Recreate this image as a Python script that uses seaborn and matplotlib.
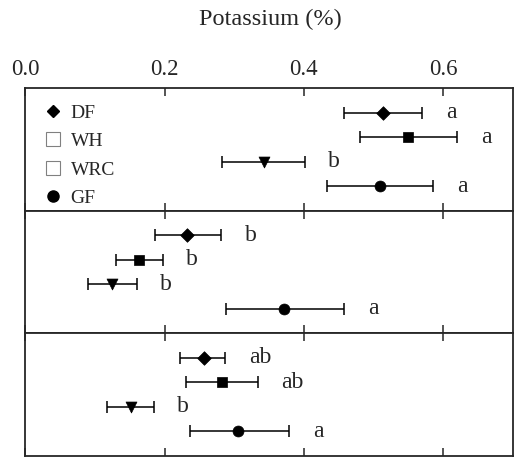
import matplotlib
matplotlib.use("Agg")
import matplotlib.pyplot as plt
from matplotlib.lines import Line2D
import numpy as np
import pandas as pd
import seaborn as sns

species = ["DF", "WH", "WRC", "GF"]
panels = ["top", "middle", "bottom"]

# mean and error-bar ends per panel, in species order
means = {
    "top":    [0.514, 0.549, 0.342, 0.510],
    "middle": [0.232, 0.163, 0.125, 0.372],
    "bottom": [0.256, 0.283, 0.151, 0.306],
}
lows = {
    "top":    [0.457, 0.480, 0.283, 0.433],
    "middle": [0.186, 0.130, 0.090, 0.288],
    "bottom": [0.222, 0.230, 0.117, 0.236],
}
highs = {
    "top":    [0.570, 0.620, 0.401, 0.586],
    "middle": [0.281, 0.197, 0.160, 0.458],
    "bottom": [0.287, 0.334, 0.184, 0.379],
}
letters = {
    "top":    ["a", "a", "b", "a"],
    "middle": ["b", "b", "b", "a"],
    "bottom": ["ab", "ab", "b", "a"],
}
tick_vals = [0.0, 0.2, 0.4, 0.6]

sns.set_style("ticks")
plt.rcParams["font.family"] = ["Liberation Serif", "DejaVu Serif"]

marker_map = {"DF": "D", "WH": "s", "WRC": "v", "GF": "o"}
size_map = {"DF": 48, "WH": 50, "WRC": 62, "GF": 62}

fig, axes = plt.subplots(3, 1, figsize=(5.19, 4.62), dpi=100)
fig.subplots_adjust(left=0.049, right=0.988, top=0.809, bottom=0.013, hspace=0)

for ax, p in zip(axes, panels):
    df = pd.DataFrame({
        "species": species,
        "mean": means[p],
        "lo": lows[p],
        "hi": highs[p],
        "pos": np.arange(1, len(species) + 1),
    })
    ax.errorbar(df["mean"], df["pos"],
                xerr=[df["mean"] - df["lo"], df["hi"] - df["mean"]],
                fmt="none", ecolor="black", elinewidth=1.1, capsize=4, capthick=1.1)
    for sp, row in df.set_index("species").iterrows():
        sns.scatterplot(x=[row["mean"]], y=[row["pos"]], marker=marker_map[sp],
                        s=size_map[sp], color="black", edgecolor="black",
                        linewidth=0.5, ax=ax, zorder=3)
    for i, row in df.iterrows():
        ax.annotate(letters[p][i], (row["hi"], row["pos"]), xytext=(17, 0),
                    textcoords="offset points", ha="left", va="center", fontsize=17)
    ax.set_ylim(5, 0)
    ax.set_xlim(0, 0.7)
    ax.set_yticks([])
    ax.set_ylabel("")
    ax.set_xlabel("")
    ax.set_xticks(tick_vals)
    ax.tick_params(axis="x", direction="in", top=True, bottom=True, length=6,
                   width=1.1, labelbottom=False, labeltop=False)
    for s in ax.spines.values():
        s.set_linewidth(1.3)
        s.set_visible(True)

axes[0].tick_params(axis="x", labeltop=True, labelsize=16.5, pad=6)
axes[0].set_xticklabels([f"{v:.1f}" for v in tick_vals])
fig.text(0.52, 0.958, "Potassium (%)", ha="center", va="center", fontsize=17.5)

handles = [
    Line2D([], [], marker="D", color="black", linestyle="none", markersize=6.5),
    Line2D([], [], marker="s", markerfacecolor="white", markeredgecolor="gray",
           markeredgewidth=0.8, linestyle="none", markersize=10),
    Line2D([], [], marker="s", markerfacecolor="white", markeredgecolor="gray",
           markeredgewidth=0.8, linestyle="none", markersize=10),
    Line2D([], [], marker="o", color="black", linestyle="none", markersize=8),
]
axes[0].legend(handles, species, loc="upper left", frameon=False, fontsize=14,
               handlelength=0.8, handletextpad=0.5, labelspacing=0.56,
               borderaxespad=0.0, bbox_to_anchor=(0.025, 0.935))

fig.savefig("out.png", dpi=100)
